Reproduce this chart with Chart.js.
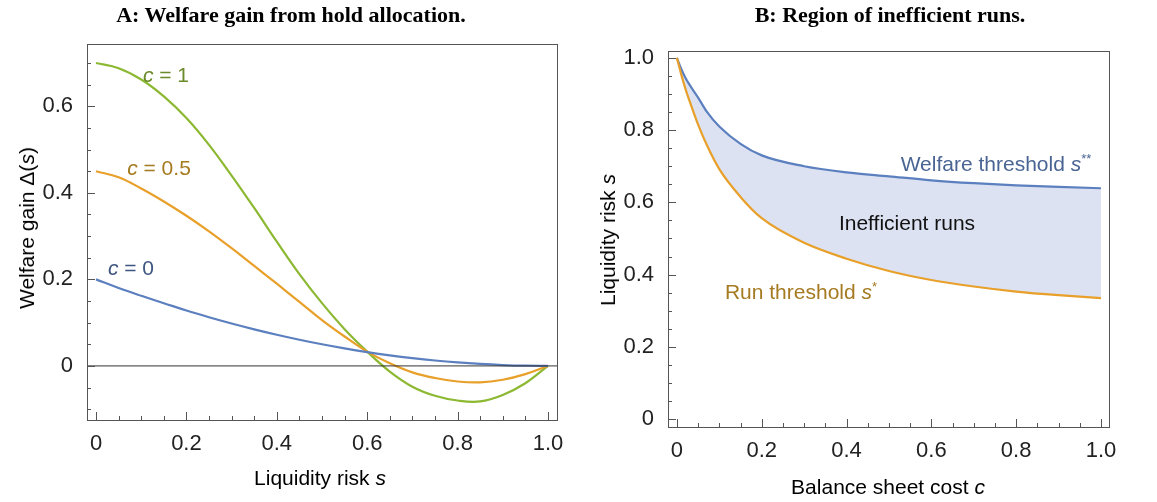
<!DOCTYPE html>
<html>
<head>
<meta charset="utf-8">
<script src="https://cdn.jsdelivr.net/npm/chart.js@4"></script>
<style>
  body { margin: 0; background: #fff; width: 1157px; height: 502px; position: relative; overflow: hidden;
         font-family: "Liberation Sans", Arial, sans-serif; }
  canvas { position: absolute; top: 0; }
  .t { position: absolute; white-space: nowrap; font-size: 21px; transform: translate(-50%, -50%); }
  .title { font-family: "Liberation Serif", serif; font-weight: bold; font-size: 22px; }
  .rot { transform: translate(-50%, -50%) rotate(-90deg); }
</style>
</head>
<body>
<canvas id="chartA" width="580" height="502" style="left:0"></canvas>
<canvas id="chartB" width="577" height="502" style="left:580px"></canvas>

<div class="t title" style="left:291px; top:15px">A: Welfare gain from hold allocation.</div>
<div class="t title" style="left:890px; top:15px">B: Region of inefficient runs.</div>
<div class="t" style="left:320px; top:478px">Liquidity risk <i>s</i></div>
<div class="t rot" style="left:27px; top:228px">Welfare gain Δ(<i>s</i>)</div>
<div class="t" style="left:888px; top:487px">Balance sheet cost <i>c</i></div>
<div class="t rot" style="left:608px; top:240px">Liquidity risk <i>s</i></div>
<div class="t" style="left:166px; top:75px; color:#6b8a2a"><i>c</i> = 1</div>
<div class="t" style="left:159px; top:168px; color:#a57a20"><i>c</i> = 0.5</div>
<div class="t" style="left:131px; top:268px; color:#3f5680"><i>c</i> = 0</div>
<div class="t" style="left:996px; top:163px; color:#4a6594">Welfare threshold <i>s</i><sup style="font-size:13px">**</sup></div>
<div class="t" style="left:907px; top:223px; color:#111">Inefficient runs</div>
<div class="t" style="left:801px; top:291px; color:#a57a20">Run threshold <i>s</i><sup style="font-size:13px">*</sup></div>

<script>
'use strict';

// ── Panel A data ──────────────────────────────────────────────────────────────
const sGrid = [0, 0.05, 0.1, 0.15, 0.2, 0.25, 0.3, 0.35, 0.4, 0.45, 0.5,
               0.55, 0.6, 0.65, 0.7, 0.75, 0.8, 0.85, 0.9, 0.95, 1.0];
const gainC0 = [0.200, 0.180, 0.162, 0.145, 0.128, 0.1125, 0.098, 0.0845, 0.072, 0.0605, 0.050,
                0.0405, 0.032, 0.0245, 0.018, 0.0125, 0.008, 0.0045, 0.002, 0.0005, 0];
const gainC05 = [0.450, 0.436, 0.410, 0.380, 0.347, 0.311, 0.272, 0.231, 0.190, 0.148, 0.106,
                 0.068, 0.033, 0.006, -0.015, -0.028, -0.036, -0.038, -0.032, -0.019, 0];
const gainC1 = [0.700, 0.688, 0.662, 0.623, 0.573, 0.511, 0.440, 0.365, 0.287, 0.212, 0.145,
                0.085, 0.033, -0.013, -0.048, -0.069, -0.080, -0.082, -0.067, -0.040, 0];
const ticksA_x = [0, 0.2, 0.4, 0.6, 0.8, 1.0];
const ticksA_y = [0, 0.2, 0.4, 0.6];

// ── Panel B data ──────────────────────────────────────────────────────────────
const cGrid = [0, 0.01, 0.02, 0.03, 0.05, 0.07, 0.1, 0.15, 0.2, 0.3, 0.4, 0.5, 0.6, 0.7, 0.8, 0.9, 1.0];
const welfareThr = [1.0, 0.97, 0.945, 0.925, 0.89, 0.852, 0.81, 0.762, 0.73, 0.70, 0.683, 0.672, 0.661, 0.653, 0.647, 0.643, 0.639];
const runThr = [1.0, 0.955, 0.915, 0.88, 0.815, 0.76, 0.692, 0.615, 0.556, 0.488, 0.444, 0.41, 0.385, 0.367, 0.353, 0.343, 0.335];
const ticksB_x = [0, 0.2, 0.4, 0.6, 0.8, 1.0];
const ticksB_y = [0, 0.2, 0.4, 0.6, 0.8, 1.0];

const BLUE = '#5b7fbf', ORANGE = '#e8a02a', GREEN = '#8cb832';

const pts = (xs, ys) => xs.map((x, i) => ({ x, y: ys[i] }));
const fmtTick = v => v === 0 ? '0' : v.toFixed(1);

// frame, inward ticks, optional zero line
function framePlugin(minorX, minorY, zeroLine) {
    return {
        id: 'frame',
        afterDatasetsDraw(chart) {
            const { ctx, chartArea: a, scales: { x, y } } = chart;
            ctx.save();
            ctx.lineWidth = 1;
            if (zeroLine) {
                ctx.strokeStyle = '#333';
                ctx.beginPath();
                ctx.moveTo(a.left, y.getPixelForValue(0));
                ctx.lineTo(a.right, y.getPixelForValue(0));
                ctx.stroke();
            }
            ctx.strokeStyle = '#555';
            ctx.strokeRect(a.left + 0.5, a.top + 0.5, a.right - a.left, a.bottom - a.top);
            ctx.beginPath();
            minorX.forEach(v => {
                const px = Math.round(x.getPixelForValue(v)) + 0.5;
                const len = Math.abs(v * 5 - Math.round(v * 5)) < 1e-6 ? 8 : 4;
                ctx.moveTo(px, a.bottom); ctx.lineTo(px, a.bottom - len);
            });
            minorY.forEach(v => {
                const py = Math.round(y.getPixelForValue(v)) + 0.5;
                const len = Math.abs(v * 5 - Math.round(v * 5)) < 1e-6 ? 8 : 4;
                ctx.moveTo(a.left, py); ctx.lineTo(a.left + len, py);
            });
            ctx.stroke();
            ctx.restore();
        },
    };
}

function axes(xr, yr, xt, yt, yw, xh) {
    const tickFont = { family: '"Liberation Sans", Arial, sans-serif', size: 22 };
    return {
        x: {
            type: 'linear', min: xr[0], max: xr[1],
            afterBuildTicks: s => { s.ticks = xt.map(v => ({ value: v })); },
            afterFit: s => { s.height = xh; },
            grid: { display: false }, border: { display: false },
            ticks: { color: '#222', font: tickFont, padding: 3, maxRotation: 0, callback: fmtTick },
        },
        y: {
            type: 'linear', min: yr[0], max: yr[1],
            afterBuildTicks: s => { s.ticks = yt.map(v => ({ value: v })); },
            afterFit: s => { s.width = yw; },
            grid: { display: false }, border: { display: false },
            ticks: { color: '#222', font: tickFont, padding: 6, callback: fmtTick },
        },
    };
}

const lineDs = (data, color, mono) => Object.assign({
    data, borderColor: color, borderWidth: 2.2, pointRadius: 0, fill: false,
}, mono ? { cubicInterpolationMode: 'monotone' } : { tension: 0.4 });

const minorX = Array.from({ length: 21 }, (_, i) => i * 0.05);
const minorA_y = Array.from({ length: 17 }, (_, i) => i * 0.05 - 0.1);

new Chart(document.getElementById('chartA'), {
    type: 'line',
    data: { datasets: [
        lineDs(pts(sGrid, gainC0), BLUE),
        lineDs(pts(sGrid, gainC05), ORANGE),
        lineDs(pts(sGrid, gainC1), GREEN),
    ] },
    options: {
        responsive: false, animation: false,
        layout: { padding: { left: 0, top: 44, right: 23, bottom: 0 } },
        plugins: { legend: { display: false }, tooltip: { enabled: false } },
        scales: axes([-0.02, 1.02], [-0.125, 0.744], ticksA_x, ticksA_y, 87, 82),
    },
    plugins: [framePlugin(minorX, minorA_y, true)],
});

new Chart(document.getElementById('chartB'), {
    type: 'line',
    data: { datasets: [
        lineDs(pts(cGrid, runThr), ORANGE, true),
        Object.assign(lineDs(pts(cGrid, welfareThr), BLUE, true), { fill: '-1', backgroundColor: 'rgba(205,214,235,0.7)' }),
    ] },
    options: {
        responsive: false, animation: false,
        layout: { padding: { left: 0, top: 51, right: 48, bottom: 0 } },
        plugins: { legend: { display: false }, tooltip: { enabled: false }, filler: { propagate: false } },
        scales: axes([-0.021, 1.019], [-0.022, 1.019], ticksB_x, ticksB_y, 88, 75),
    },
    plugins: [framePlugin(minorX, minorX, false)],
});
</script>
</body>
</html>
